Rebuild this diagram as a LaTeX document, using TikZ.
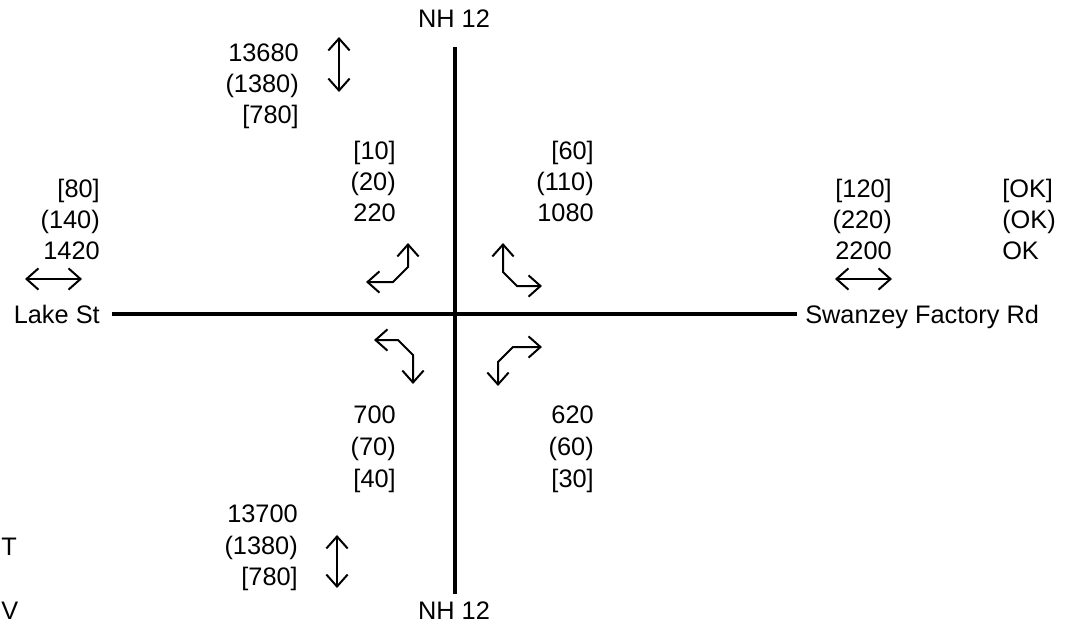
\documentclass[tikz,border=0pt]{standalone}
\usepackage{fontspec}
\setmainfont{Liberation Sans}
\usetikzlibrary{arrows.meta}
\begin{document}
\begin{tikzpicture}[x=0.75pt,y=-0.75pt,
  lbl/.style={inner sep=0pt,font=\fontsize{19}{23}\selectfont},
  re/.style={lbl,anchor=base east},
  le/.style={lbl,anchor=base west},
  ce/.style={lbl,anchor=base},
  road/.style={line width=3pt},
  mv/.style={line width=1.5pt,{Straight Barb[length=9pt,width=16pt,line width=1.5pt]}-{Straight Barb[length=9pt,width=16pt,line width=1.5pt]}}
]
\useasboundingbox (0,0) rectangle (1068,629);
% roads
\coordinate (rN) at (455,47);
\coordinate (rS) at (455,594);
\coordinate (rW) at (112,314);
\coordinate (rE) at (797,314);
\draw[road] (rN) -- (rS);
\draw[road] (rW) -- (rE);
% road names
\node[ce] (ntop) at (454,27) {NH 12};
\node[ce] (nbot) at (454,619) {NH 12};
\node[re] (lake) at (100,323) {Lake St};
\node[le] (swan) at (805,323) {Swanzey Factory Rd};
% top-left totals
\node[re] (tl1) at (299,61) {13680};
\node[re] (tl2) at (299,92) {(1380)};
\node[re] (tl3) at (299,123) {[780]};
% upper middle
\node[re] (ml1) at (396,159) {[10]};
\node[re] (ml2) at (396,190) {(20)};
\node[re] (ml3) at (396,221) {220};
\node[re] (mr1) at (594,159) {[60]};
\node[re] (mr2) at (594,190) {(110)};
\node[re] (mr3) at (594,221) {1080};
% sides
\node[re] (wl1) at (100,197) {[80]};
\node[re] (wl2) at (100,228) {(140)};
\node[re] (wl3) at (100,259) {1420};
\node[re] (el1) at (892,197) {[120]};
\node[re] (el2) at (892,228) {(220)};
\node[re] (el3) at (892,259) {2200};
\node[le] (ok1) at (1002,197) {[OK]};
\node[le] (ok2) at (1002,228) {(OK)};
\node[le] (ok3) at (1002,259) {OK};
% lower middle
\node[re] (bl1) at (396,423) {700};
\node[re] (bl2) at (396,455) {(70)};
\node[re] (bl3) at (396,487) {[40]};
\node[re] (br1) at (594,423) {620};
\node[re] (br2) at (594,455) {(60)};
\node[re] (br3) at (594,487) {[30]};
% bottom-left totals
\node[re] (bt1) at (298,522) {13700};
\node[re] (bt2) at (298,554) {(1380)};
\node[re] (bt3) at (298,585) {[780]};
% legend letters at the left edge
\node[le] (legT) at (1,555) {T};
\node[le] (legV) at (1,619) {V};
% two-way arrows
\draw[mv] (339,37) -- (339,92);
\draw[mv] (337,535) -- (337,588);
\draw[mv] (25,279) -- (82,279);
\draw[mv] (835,279) -- (892,279);
% turning movements
\draw[mv] (366,282) -- (393,282) -- (408,267) -- (408,243);
\draw[mv] (503,243) -- (503,272) -- (517,286) -- (542,286);
\draw[mv] (374,340) -- (398,340) -- (413,355) -- (413,384);
\draw[mv] (498,386) -- (498,362) -- (513,347) -- (542,347);
\end{tikzpicture}
\end{document}
